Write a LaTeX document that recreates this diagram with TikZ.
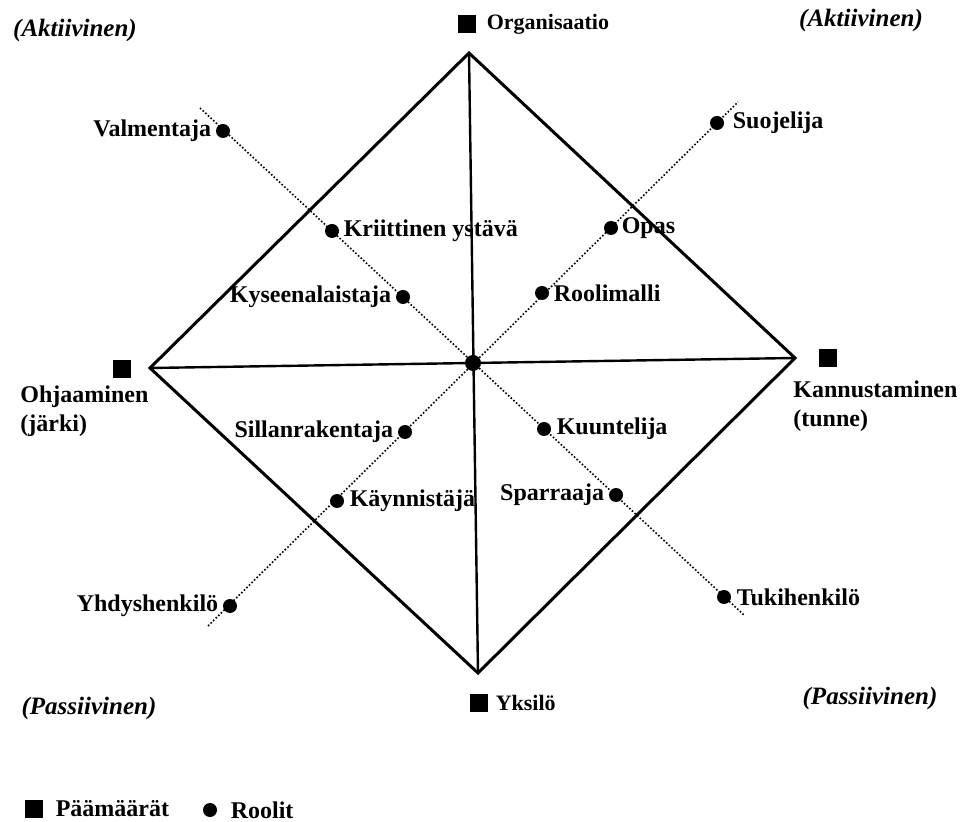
\documentclass[tikz,border=0pt]{standalone}
\usepackage{fontspec}
\setmainfont{Liberation Serif}
\usetikzlibrary{positioning}

\begin{document}
\begin{tikzpicture}[x=0.5pt,y=-0.5pt,font=\fontsize{12}{14.5}\selectfont\bfseries,
  paamaara/.style={rectangle,fill=black,minimum size=9pt,inner sep=0pt},
  rooli/.style={circle,fill=black,minimum size=7pt,inner sep=0pt},
  nimi/.style={inner sep=1pt},
  pieni/.style={nimi,font=\fontsize{11}{13}\selectfont\bfseries},
  tila/.style={inner sep=1pt,font=\fontsize{12.5}{14}\selectfont\bfseries\itshape},
  reuna/.style={line width=1.5pt,line join=miter},
  akseli/.style={line width=1.2pt},
  rooliviiva/.style={line width=0.8pt,densely dotted}]
\useasboundingbox (0,0) rectangle (968,822);
% kärjet ja keskipiste
\coordinate (yla) at (469,53);
\coordinate (ala) at (478,673);
\coordinate (vasen) at (150,368);
\coordinate (oikea) at (795,358);
% rooliviivojen päät
\coordinate (nwpaa) at (200,108);
\coordinate (sepaa) at (745,616);
\coordinate (swpaa) at (208,626);
\coordinate (nepaa) at (738,102);
\draw[reuna] (yla) -- (oikea) -- (ala) -- (vasen) -- cycle;
\draw[akseli] (yla) -- (ala);
\draw[akseli] (vasen) -- (oikea);
\draw[rooliviiva] (nwpaa) -- (sepaa);
\draw[rooliviiva] (swpaa) -- (nepaa);
\node[circle,fill=black,minimum size=8pt,inner sep=0pt] (keski) at (473,363) {};
% roolit, nimi vasemmalla
\foreach \n/\x/\y/\d/\t in {valm/223/131/1pt/Valmentaja, kyse/403/297/1pt/Kyseenalaistaja,
    silla/405/432/1pt/Sillanrakentaja, yhdys/230/606/1pt/Yhdyshenkilö, sparr/616/495/1pt/Sparraaja}{
  \node[rooli] (\n) at (\x,\y) {};
  \node[nimi,left=\d of \n] (\n-nimi) {\t};
}
% roolit, nimi oikealla
\foreach \n/\x/\y/\d/\t in {kriit/332/231/1pt/Kriittinen ystävä, roolim/542/293/1pt/Roolimalli,
    opas/611/228/0.5pt/Opas, suoj/717/123/3pt/Suojelija, kaynn/337/501/1.5pt/Käynnistäjä,
    kuunt/544/429/1.5pt/Kuuntelija, tuki/724/597/1.5pt/Tukihenkilö}{
  \node[rooli] (\n) at (\x,\y) {};
  \node[nimi,right=\d of \n] (\n-nimi) {\t};
}
% päämäärät
\node[paamaara] (org) at (467,24) {};
\node[pieni,right=4pt of org] (org-nimi) {Organisaatio};
\node[paamaara] (yks) at (479,703) {};
\node[pieni,right=2.5pt of yks] (yks-nimi) {Yksilö};
\node[paamaara] (ohj) at (122,369) {};
\node[nimi,align=left,anchor=north west] (ohj-nimi) at (18,383) {Ohjaaminen\\(järki)};
\node[paamaara] (kann) at (828,358) {};
\node[nimi,align=left,anchor=north west] (kann-nimi) at (791,378) {Kannustaminen\\(tunne)};
% aktiivinen / passiivinen
\node[tila] (akt-v) at (75,30) {(Aktiivinen)};
\node[tila] (akt-o) at (861,20) {(Aktiivinen)};
\node[tila] (pas-v) at (89,708) {(Passiivinen)};
\node[tila] (pas-o) at (870,698) {(Passiivinen)};
% selite
\node[paamaara] (sel-p) at (34,809) {};
\node[nimi,right=5pt of sel-p] (sel-p-nimi) {Päämäärät};
\node[rooli] (sel-r) at (210,810) {};
\node[nimi,right=5.5pt of sel-r] (sel-r-nimi) {Roolit};
\end{tikzpicture}
\end{document}
